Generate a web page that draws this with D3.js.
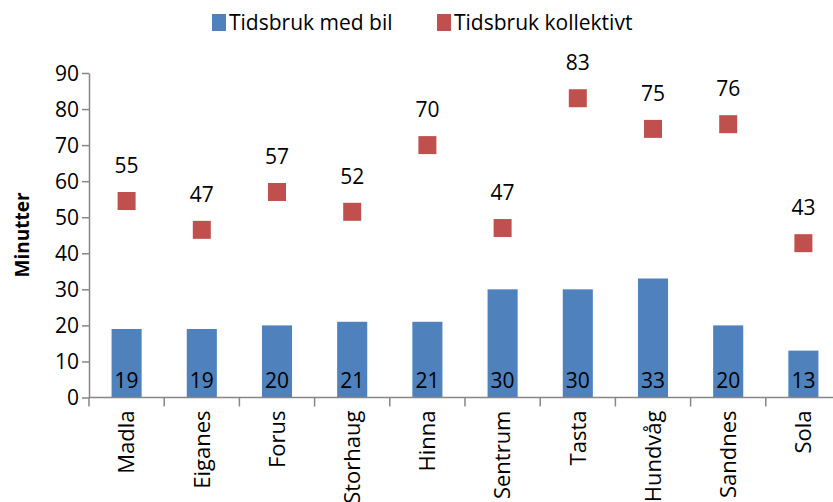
<!DOCTYPE html>
<html>
<head>
<meta charset="utf-8">
<script src="https://cdn.jsdelivr.net/npm/d3@7"></script>
<style>
  body { margin: 0; background: #fff; }
  svg { display: block; }
  text { font-family: "Open Sans", "Noto Sans", sans-serif; fill: #000; }
</style>
</head>
<body>
<svg id="chart" width="833" height="502"></svg>
<script>
const categories = ["Madla", "Eiganes", "Forus", "Storhaug", "Hinna", "Sentrum", "Tasta", "Hundvåg", "Sandnes", "Sola"];
const carTime = [19, 19, 20, 21, 21, 30, 30, 33, 20, 13];
const transitTime = [54.5, 46.5, 57, 51.5, 70, 47, 83, 74.5, 75.8, 42.8];
const yTicks = [0, 10, 20, 30, 40, 50, 60, 70, 80, 90];
const seriesNames = ["Tidsbruk med bil", "Tidsbruk kollektivt"];
const yTitle = "Minutter";

const colors = ["#4F81BD", "#C0504D"];
const axisColor = "#868686";

const svg = d3.select("#chart");
const plot = { left: 89, right: 841, top: 73, bottom: 397.5 };

const x = d3.scaleBand().domain(categories).range([plot.left, plot.right]).paddingInner(0.6).paddingOuter(0.3);
const xEdge = d3.scaleBand().domain(categories).range([plot.left, plot.right]);
const y = d3.scaleLinear().domain([0, 90]).range([plot.bottom, plot.top]);
const fmt = d3.format(".0f");

// Bars
svg.append("g").selectAll("rect").data(categories).join("rect")
  .attr("x", d => x(d))
  .attr("width", x.bandwidth())
  .attr("y", (d, i) => y(carTime[i]))
  .attr("height", (d, i) => y(0) - y(carTime[i]))
  .attr("fill", colors[0]);

// Bar labels (inside base)
svg.append("g").selectAll("text").data(categories).join("text")
  .attr("x", d => xEdge(d) + xEdge.bandwidth() / 2)
  .attr("y", y(0) - 10)
  .attr("text-anchor", "middle")
  .style("font-size", "21px")
  .text((d, i) => fmt(carTime[i]));

// Square markers
const ms = 18;
svg.append("g").selectAll("rect").data(categories).join("rect")
  .attr("x", d => xEdge(d) + xEdge.bandwidth() / 2 - ms / 2)
  .attr("y", (d, i) => y(transitTime[i]) - ms / 2)
  .attr("width", ms).attr("height", ms)
  .attr("fill", colors[1]);

svg.append("g").selectAll("text").data(categories).join("text")
  .attr("x", d => xEdge(d) + xEdge.bandwidth() / 2)
  .attr("y", (d, i) => y(transitTime[i]) - 28)
  .attr("text-anchor", "middle")
  .style("font-size", "21px")
  .text((d, i) => fmt(transitTime[i]));

// Y axis
const yAxis = svg.append("g").attr("transform", `translate(${plot.left},0)`)
  .call(d3.axisLeft(y).tickValues(yTicks).tickSize(7).tickPadding(3).tickSizeOuter(0));
yAxis.select(".domain").attr("stroke", axisColor).attr("stroke-width", 1.5);
yAxis.selectAll(".tick line").attr("stroke", axisColor).attr("stroke-width", 1.5);
yAxis.selectAll(".tick text").style("font-size", "21px").attr("font-family", null).attr("dy", "0.35em");

// X axis
const xAxisG = svg.append("g").attr("transform", `translate(0,${plot.bottom})`);
xAxisG.append("line").attr("x1", plot.left).attr("x2", plot.right)
  .attr("stroke", axisColor).attr("stroke-width", 1.5);
const edges = categories.map(d => xEdge(d)).concat([plot.right]);
xAxisG.selectAll("line.tk").data(edges).join("line").attr("class", "tk")
  .attr("x1", d => d).attr("x2", d => d).attr("y1", 0).attr("y2", 9)
  .attr("stroke", axisColor).attr("stroke-width", 1.5);
xAxisG.selectAll("text").data(categories).join("text")
  .attr("transform", d => `translate(${xEdge(d) + xEdge.bandwidth() / 2},13) rotate(-90)`)
  .attr("text-anchor", "end")
  .attr("dy", "0.35em")
  .style("font-size", "22px")
  .text(d => d);

// Y title
svg.append("text")
  .attr("transform", "translate(22,235) rotate(-90)")
  .attr("text-anchor", "middle")
  .attr("dy", "0.35em")
  .style("font-size", "19px")
  .style("font-weight", "bold")
  .text(yTitle);

// Legend
const legend = svg.append("g");
const legendItems = [{ x: 212, name: seriesNames[0], c: colors[0] }, { x: 437, name: seriesNames[1], c: colors[1] }];
legendItems.forEach(it => {
  legend.append("rect").attr("x", it.x).attr("y", 14).attr("width", 14).attr("height", 17).attr("fill", it.c);
  legend.append("text").attr("x", it.x + 17).attr("y", 22.5).attr("dy", "0.35em")
    .style("font-size", "21px").text(it.name);
});
</script>
</body>
</html>
